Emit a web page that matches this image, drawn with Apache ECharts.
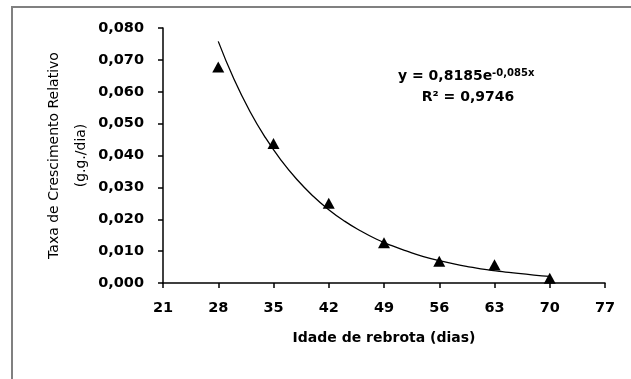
<!DOCTYPE html>
<html>
<head>
<meta charset="utf-8">
<script src="https://cdn.jsdelivr.net/npm/echarts@6/dist/echarts.min.js"></script>
<style>html,body{margin:0;padding:0;background:#fff}#c{width:631px;height:379px}</style>
</head>
<body>
<div id="c"></div>
<script>
// Observed data (days, TCR g.g./dia)
const days = [28, 35, 42, 49, 56, 63, 70];
const tcr = [0.0678, 0.0438, 0.0250, 0.0126, 0.0068, 0.0057, 0.0015];
// Trend line
const trendDays = [28, 30, 32, 34, 36, 38, 40, 42, 44, 46, 48, 50, 52, 54, 56, 58, 60, 62, 64, 66, 68, 70];
const trendVals = [0.0758, 0.0639, 0.0539, 0.0455, 0.0384, 0.0324, 0.0273, 0.0230, 0.0194, 0.0164, 0.0138, 0.0117, 0.0099, 0.0083, 0.0070, 0.0059, 0.0050, 0.0042, 0.0036, 0.0030, 0.0025, 0.0021];
const xTicks = [21, 28, 35, 42, 49, 56, 63, 70, 77];
const yTicks = [0, 0.01, 0.02, 0.03, 0.04, 0.05, 0.06, 0.07, 0.08];
const yTitle = 'Taxa de Crescimento Relativo\n(g.g./dia)';
const xTitle = 'Idade de rebrota (dias)';
const eqCoef = 'y = 0,8185e';
const eqExp = '-0,085x';
const r2Text = 'R² = 0,9746';

const F = 'DejaVu Sans';
const chart = echarts.init(document.getElementById('c'), null, {renderer: 'canvas'});
chart.setOption({
  animation: false,
  backgroundColor: '#fff',
  grid: {left: 163, right: 26, top: 28, bottom: 96, containLabel: false},
  xAxis: {
    type: 'value', min: xTicks[0], max: xTicks[xTicks.length - 1], interval: 7,
    axisLine: {show: true, lineStyle: {color: '#000', width: 1.5}},
    axisTick: {show: true, inside: false, length: 5, lineStyle: {color: '#000', width: 1.5}},
    splitLine: {show: false},
    axisLabel: {color: '#000', fontFamily: F, fontWeight: 'bold', fontSize: 14.5, margin: 18},
    name: xTitle, nameLocation: 'middle', nameGap: 48, nameMoveOverlap: false,
    nameTextStyle: {color: '#000', fontFamily: F, fontWeight: 'bold', fontSize: 14}
  },
  yAxis: {
    type: 'value', min: yTicks[0], max: yTicks[yTicks.length - 1], interval: 0.01,
    axisLine: {show: true, lineStyle: {color: '#000', width: 1.5}},
    axisTick: {show: true, inside: false, length: 5, lineStyle: {color: '#000', width: 1.5}},
    splitLine: {show: false},
    axisLabel: {color: '#000', fontFamily: F, fontWeight: 'bold', fontSize: 14.5, margin: 19,
      formatter: v => v.toFixed(3).replace('.', ',')},
    name: yTitle, nameLocation: 'middle', nameRotate: 90, nameGap: 68, nameMoveOverlap: false,
    nameTextStyle: {color: '#000', fontFamily: F, fontSize: 14, lineHeight: 27, align: 'center'}
  },
  series: [
    {
      type: 'line', data: trendDays.map((d, i) => [d, trendVals[i]]), smooth: true,
      showSymbol: false, lineStyle: {color: '#000', width: 1.3}, z: 2
    },
    {
      type: 'scatter', data: days.map((d, i) => [d, tcr[i]]),
      symbol: 'triangle', symbolSize: [12, 11], itemStyle: {color: '#000', opacity: 1}, z: 3
    }
  ],
  graphic: [
    {type: 'line', shape: {x1: 12, y1: 7, x2: 12, y2: 379}, style: {stroke: '#808080', lineWidth: 2}},
    {type: 'line', shape: {x1: 11, y1: 7, x2: 631, y2: 7}, style: {stroke: '#808080', lineWidth: 2}},
    {type: 'text', left: 398, top: 68, style: {
      text: '{a|' + eqCoef + '}{b|' + eqExp + '}',
      rich: {
        a: {fontFamily: F, fontWeight: 'bold', fontSize: 14, fill: '#000', verticalAlign: 'bottom', lineHeight: 18},
        b: {fontFamily: F, fontWeight: 'bold', fontSize: 10, fill: '#000', verticalAlign: 'bottom', lineHeight: 12, padding: [0,0,5,0]}
      }
    }},
    {type: 'text', x: 468, y: 97, style: {
      text: r2Text, fontFamily: F, fontWeight: 'bold', fontSize: 14, fill: '#000',
      textAlign: 'center', textVerticalAlign: 'middle'
    }}
  ]
});
</script>
</body>
</html>
